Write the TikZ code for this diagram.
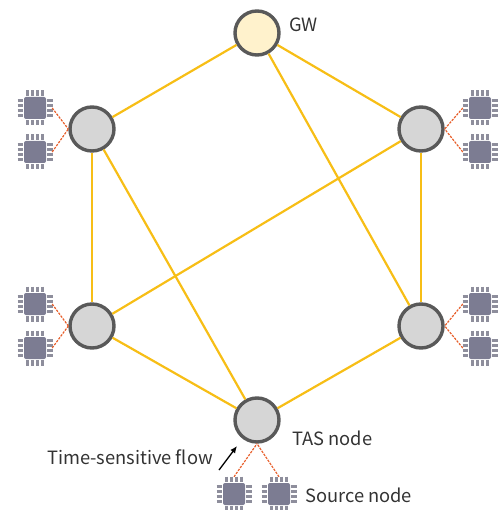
\documentclass[tikz,border=0pt]{standalone}
\usepackage{fontspec}
\usetikzlibrary{arrows.meta}
\setmainfont{Noto Sans CJK JP}
\definecolor{link}{HTML}{F7BE16}
\definecolor{rim}{HTML}{595959}
\definecolor{chipc}{HTML}{7C7C92}
\definecolor{pinc}{HTML}{8E8E9C}
\definecolor{flowc}{HTML}{E8602C}
\tikzset{
  x=1pt,y=-1pt,
  tas/.style={circle,draw=rim,line width=3.4pt,fill=black!16,minimum size=44pt,inner sep=0pt},
  chipbox/.style={rectangle,rounded corners=2pt,fill=chipc,minimum size=22pt,inner sep=0pt},
  wire/.style={draw=link,line width=2.2pt},
  flow/.style={draw=flowc,line width=1.2pt,dash pattern=on 2.4pt off 1.2pt},
  pin/.style={draw=pinc,line width=2.4pt},
  lab/.style={font=\fontsize{18.3}{21}\selectfont,text=black!80,inner sep=0pt,anchor=west}
}
\newcommand{\chip}[3]{%
  \foreach \d in {-7.5,-2.5,2.5,7.5}{%
    \draw[pin] (#2+\d,#3-17.5) -- (#2+\d,#3+17.5);
    \draw[pin] (#2-17.5,#3+\d) -- (#2+17.5,#3+\d);
  }
  \fill[white] (#2-12,#3-12) rectangle (#2+12,#3+12);
  \node[chipbox] (#1) at (#2,#3) {};
}
\begin{document}
\begin{tikzpicture}
\useasboundingbox (0,0) rectangle (500,510);
\node[tas,fill={rgb,255:red,255;green,242;blue,204}] (g) at (257,33) {};
\node[tas] (a) at (92,129) {};
\node[tas] (b) at (421,129) {};
\node[tas] (c) at (92,326) {};
\node[tas] (d) at (421,326) {};
\node[tas] (e) at (257,420) {};
\draw[wire] (g)--(a);
\draw[wire] (g)--(b);
\draw[wire] (g)--(d);
\draw[wire] (a)--(c);
\draw[wire] (a)--(e);
\draw[wire] (b)--(c);
\draw[wire] (b)--(d);
\draw[wire] (c)--(e);
\draw[wire] (d)--(e);
\chip{a1}{35}{108}
\chip{a2}{35}{152}
\chip{c1}{35}{304}
\chip{c2}{35}{348}
\chip{b1}{480}{108}
\chip{b2}{480}{152}
\chip{d1}{480}{304}
\chip{d2}{480}{348}
\chip{e1}{234}{494}
\chip{e2}{279}{494}
\draw[flow] ([xshift=6pt]a1.east)--(a.west);
\draw[flow] ([xshift=6pt]a2.east)--(a.west);
\draw[flow] ([xshift=6pt]c1.east)--(c.west);
\draw[flow] ([xshift=6pt]c2.east)--(c.west);
\draw[flow] ([xshift=-6pt]b1.west)--(b.east);
\draw[flow] ([xshift=-6pt]b2.west)--(b.east);
\draw[flow] ([xshift=-6pt]d1.west)--(d.east);
\draw[flow] ([xshift=-6pt]d2.west)--(d.east);
\draw[flow] ([yshift=6pt]e1.north)--(e.south);
\draw[flow] ([yshift=6pt]e2.north)--(e.south);
\node[lab] (gwl) at (289,25) {GW};
\node[lab] (tasl) at (292,438) {TAS node};
\node[lab] (srcl) at (305,495) {Source node};
\node[lab] (tsl) at (47,457) {Time-sensitive flow};
\coordinate (as) at (219,470);
\coordinate (ae) at (237,446);
\draw[-{Latex[length=7pt,width=6pt]},line width=1.3pt] (as)--(ae);
\end{tikzpicture}
\end{document}
